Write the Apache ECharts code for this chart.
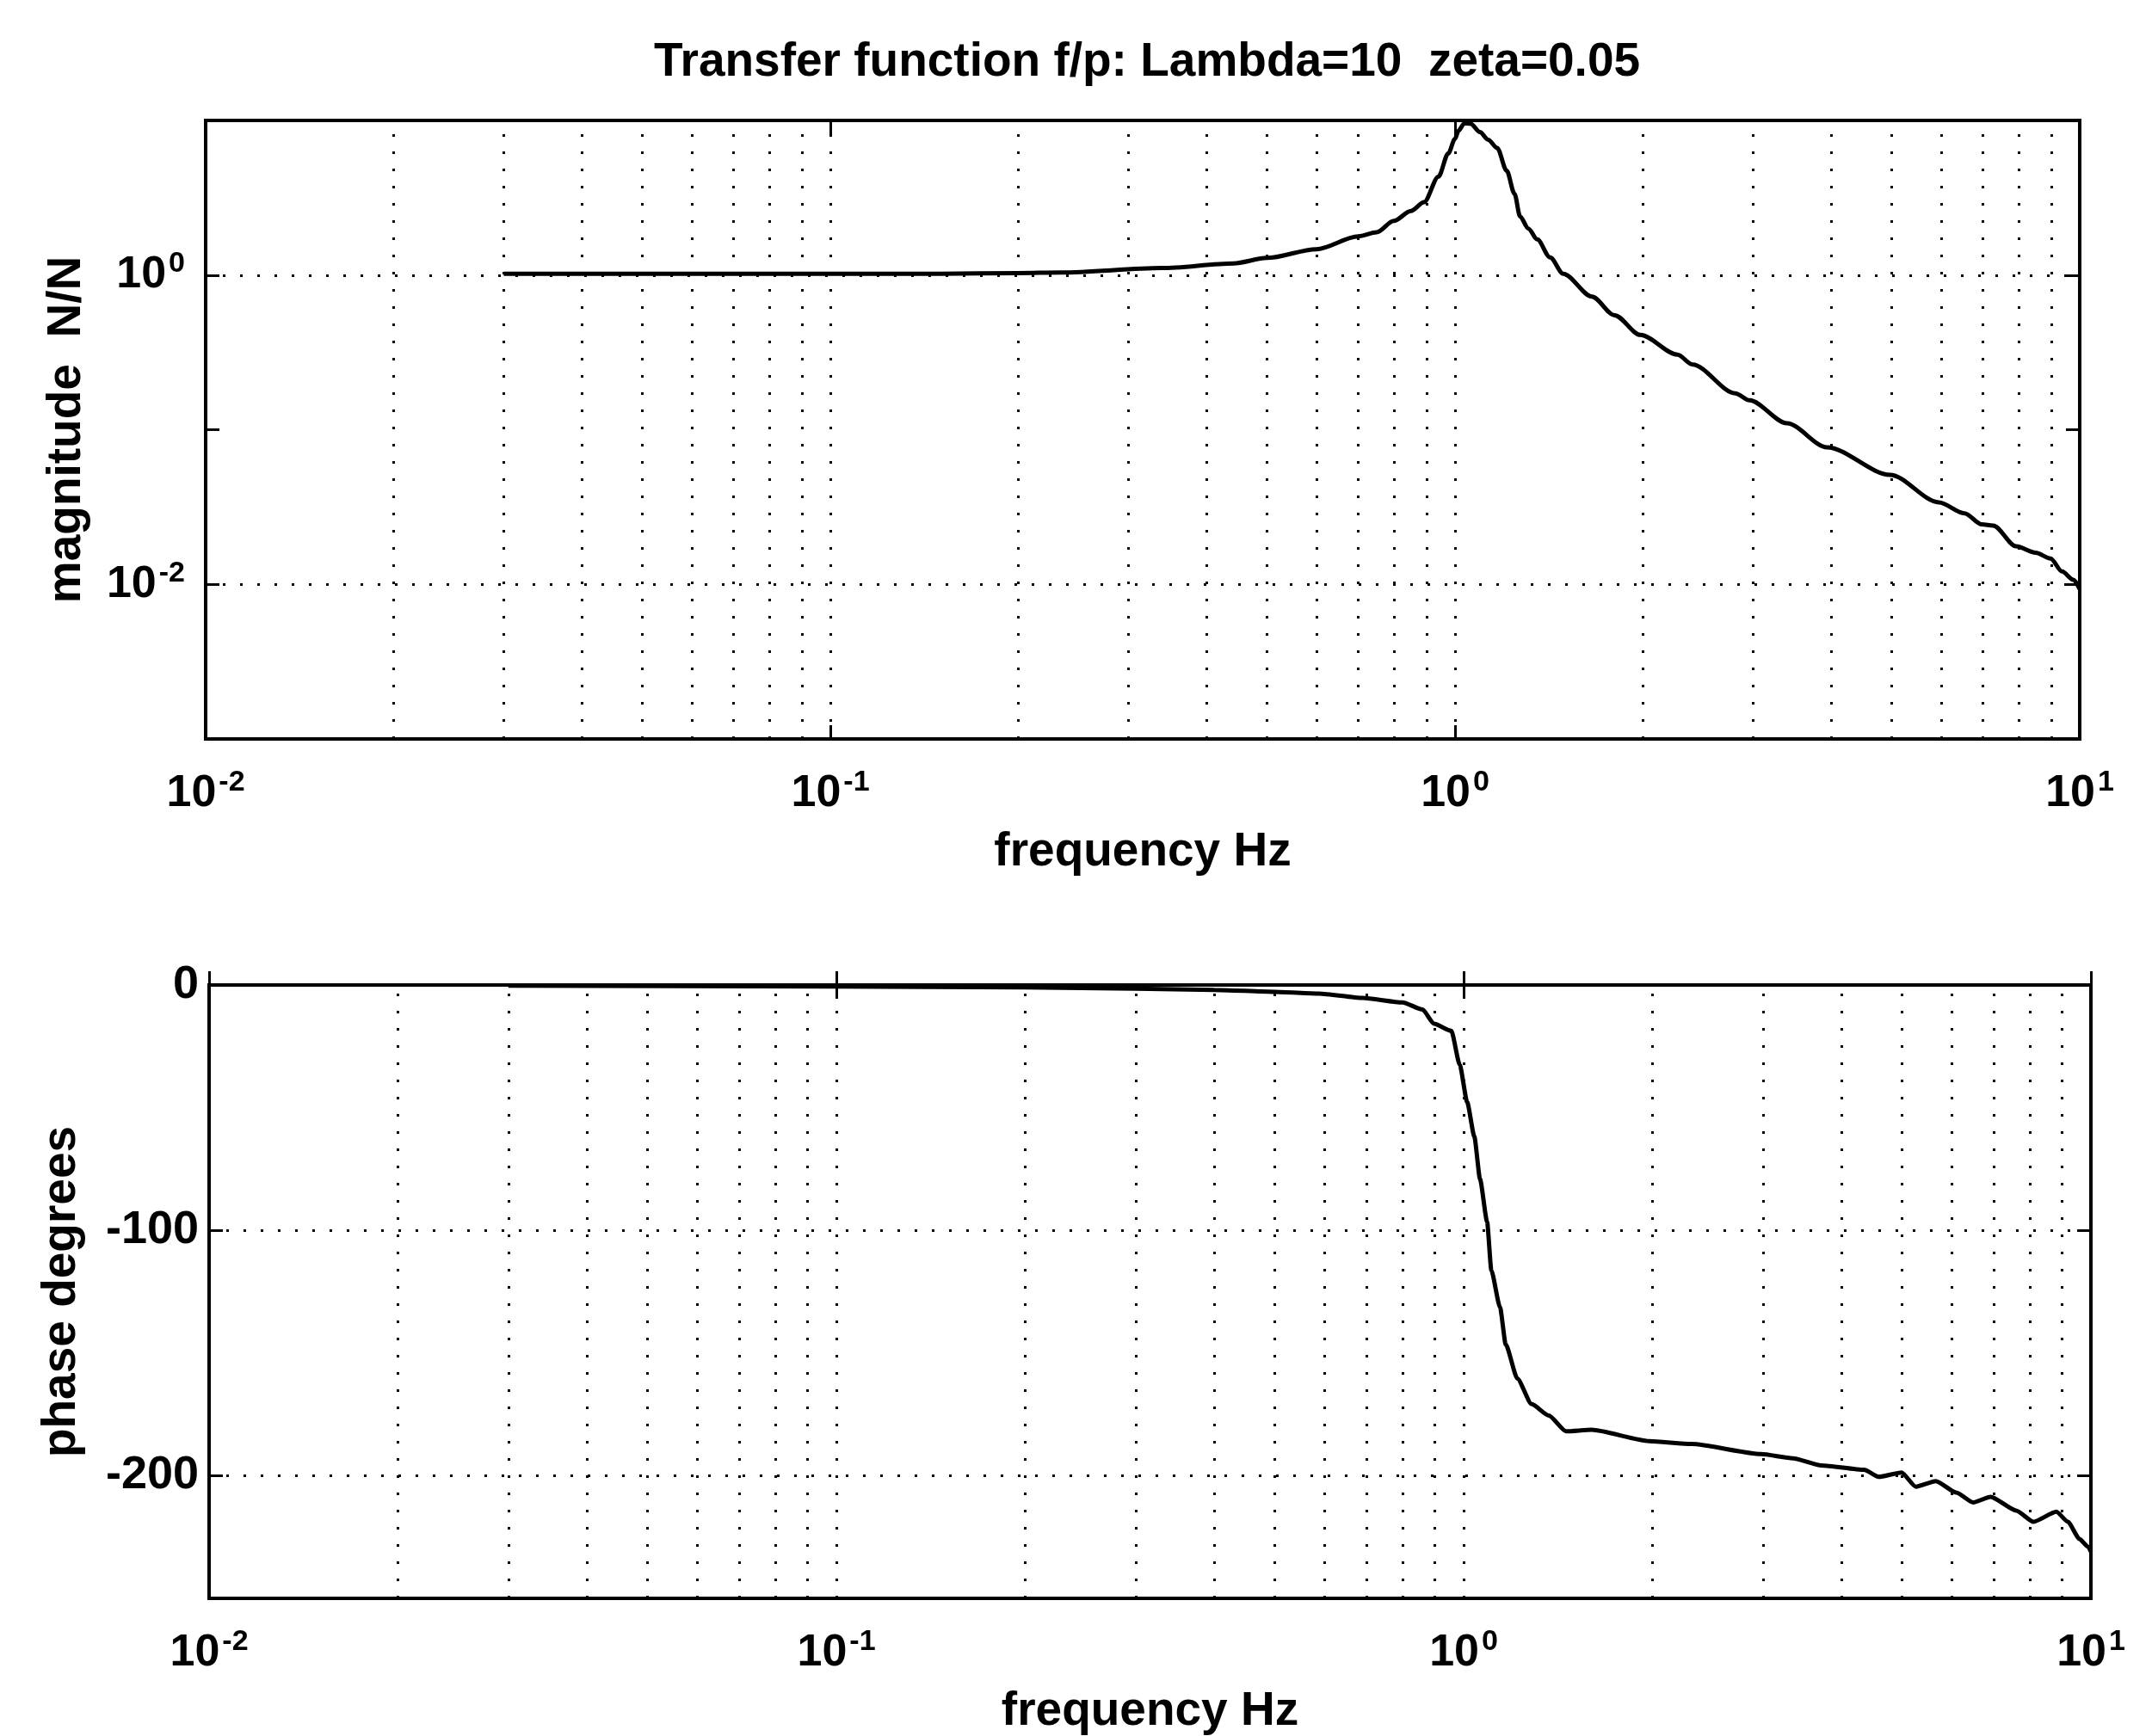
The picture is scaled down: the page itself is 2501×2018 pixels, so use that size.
<!DOCTYPE html>
<html><head><meta charset="utf-8">
<script src="https://cdn.jsdelivr.net/npm/echarts@6/dist/echarts.min.js"></script>
<style>html,body{margin:0;padding:0;background:#fff}#c{width:2501px;height:2018px}</style>
</head><body><div id="c"></div>
<script>
const titleText = 'Transfer function f/p: Lambda=10  zeta=0.05';
const magAxisName = 'magnitude  N/N';
const phaseAxisName = 'phase degrees';
const freqAxisName = 'frequency Hz';

const magFreq = [0.03, 0.05, 0.1, 0.15, 0.2, 0.234, 0.339, 0.442, 0.5, 0.6, 0.7, 0.749, 0.798, 0.85, 0.892, 0.941, 0.975, 1.0, 1.013, 1.035, 1.06, 1.096, 1.13, 1.168, 1.21, 1.245, 1.271, 1.31, 1.354, 1.42, 1.49, 1.656, 1.8, 1.98, 2.27, 2.4, 2.81, 2.96, 3.4, 3.94, 4.97, 5.95, 6.54, 6.97, 7.27, 7.91, 8.5, 8.98, 9.37, 9.77, 10];
const magVal = [1.02, 1.02, 1.02, 1.02, 1.03, 1.04, 1.11, 1.19, 1.29, 1.47, 1.78, 1.89, 2.24, 2.6, 2.96, 4.34, 6.1, 7.6, 8.6, 9.6, 9.5, 8.4, 7.5, 6.64, 4.72, 3.36, 2.39, 2.0, 1.70, 1.3, 1.02, 0.727, 0.55, 0.41, 0.306, 0.264, 0.172, 0.155, 0.11, 0.0769, 0.0511, 0.0339, 0.0288, 0.0244, 0.024, 0.0176, 0.016, 0.0147, 0.0121, 0.0107, 0.0093];

const phaseFreq = [0.03, 0.1, 0.2, 0.3, 0.4, 0.5, 0.588, 0.69, 0.799, 0.86, 0.897, 0.956, 0.986, 1.013, 1.04, 1.062, 1.09, 1.107, 1.143, 1.167, 1.218, 1.283, 1.367, 1.456, 1.6, 1.976, 2.31, 2.98, 3.35, 3.72, 4.35, 4.59, 4.99, 5.26, 5.66, 6.1, 6.49, 6.92, 7.6, 8.1, 8.81, 9.19, 9.59, 9.9, 10];
const phaseVal = [-0.3, -0.6, -1.0, -1.5, -2.0, -2.8, -3.5, -5.3, -7.1, -10, -15.8, -18.7, -32.6, -47.7, -61.7, -79.1, -96.5, -116.3, -131.4, -146.5, -160.4, -170.8, -175.5, -181.9, -181.3, -185.9, -187.1, -191.2, -192.9, -195.8, -197.6, -200.5, -198.7, -204.5, -202.2, -206.9, -210.9, -208.6, -214.2, -218.8, -214.7, -218.8, -225.8, -229, -231];

const gridFreqs = [0.02, 0.03, 0.04, 0.05, 0.06, 0.07, 0.08, 0.09, 0.1, 0.2, 0.3, 0.4, 0.5, 0.6, 0.7, 0.8, 0.9, 1, 2, 3, 4, 5, 6, 7, 8, 9];
const magGridVals = [1, 0.01];
const magLabelExps = [0, -2];
const phaseGridVals = [-100, -200];
const phaseTickVals = [-200, -100, 0];

const FF = '"Liberation Sans", Arial, Helvetica, sans-serif';
const BLACK = '#000';

function pow10Label(v) {
  const e = Math.round(Math.log10(v));
  return '{b|10}{e|' + e + '}';
}
const powRich = {
  b: { fontSize: 52, fontWeight: 'bold', fontFamily: FF, color: BLACK, lineHeight: 60 },
  e: { fontSize: 34, fontWeight: 'bold', fontFamily: FF, color: BLACK, verticalAlign: 'top', lineHeight: 34, padding: [0, 0, 0, 3] }
};
const nameStyle = { fontSize: 55, fontWeight: 'bold', fontFamily: FF, color: BLACK };
const axisLineStyle = { show: true, lineStyle: { color: BLACK, width: 4 } };
const tickStyle = { show: true, inside: true, length: 16, lineStyle: { color: BLACK, width: 3 } };
const gridLineStyle = { color: BLACK, width: 3, type: [3, 17] };

function gridMarks(yVals) {
  return {
    silent: true, symbol: ['none', 'none'], animation: false,
    label: { show: false }, emphasis: { disabled: true },
    lineStyle: gridLineStyle,
    data: gridFreqs.map(f => ({ xAxis: f })).concat(yVals.map(v => ({ yAxis: v })))
  };
}

const chart = echarts.init(document.getElementById('c'), null, { renderer: 'canvas' });
chart.setOption({
  animation: false,
  backgroundColor: '#fff',
  title: {
    text: titleText, left: 1328, top: 40, textAlign: 'center',
    textStyle: { fontSize: 55, fontWeight: 'bold', fontFamily: FF, color: BLACK }
  },
  grid: [
    { left: 239, right: 84, top: 140, height: 719, show: true, borderColor: BLACK, borderWidth: 4, backgroundColor: 'transparent' },
    { left: 243, right: 71, top: 1145, height: 715, show: true, borderColor: BLACK, borderWidth: 4, backgroundColor: 'transparent' }
  ],
  xAxis: [
    { gridIndex: 0, type: 'log', logBase: 10, min: 0.01, max: 10, position: 'bottom',
      name: freqAxisName, nameLocation: 'middle', nameGap: 104, nameTextStyle: nameStyle,
      axisLine: axisLineStyle, axisTick: tickStyle, splitLine: { show: false },
      axisLabel: { margin: 34, formatter: pow10Label, rich: powRich } },
    { gridIndex: 1, type: 'log', logBase: 10, min: 0.01, max: 10, position: 'bottom',
      name: freqAxisName, nameLocation: 'middle', nameGap: 104, nameTextStyle: nameStyle,
      axisLine: axisLineStyle, axisTick: tickStyle, splitLine: { show: false },
      axisLabel: { margin: 34, formatter: pow10Label, rich: powRich } },
    { gridIndex: 0, type: 'log', logBase: 10, min: 0.01, max: 10, position: 'top',
      axisLine: axisLineStyle, axisTick: tickStyle, axisLabel: { show: false }, splitLine: { show: false } },
    { gridIndex: 1, type: 'log', logBase: 10, min: 0.01, max: 10, position: 'top',
      axisLine: axisLineStyle, axisTick: tickStyle, axisLabel: { show: false }, splitLine: { show: false } }
  ],
  yAxis: [
    { gridIndex: 0, type: 'log', logBase: 10, min: 0.001, max: 10, position: 'left',
      name: magAxisName, nameLocation: 'middle', nameGap: 134, nameRotate: 90, nameTextStyle: nameStyle,
      axisLine: axisLineStyle, axisTick: tickStyle, splitLine: { show: false },
      axisLabel: { margin: 24,
        formatter: v => magLabelExps.indexOf(Math.round(Math.log10(v))) >= 0 ? pow10Label(v) : '',
        rich: powRich } },
    { gridIndex: 1, type: 'value', min: -250, max: 0, interval: 50, position: 'left',
      name: phaseAxisName, nameLocation: 'middle', nameGap: 144, nameRotate: 90, nameTextStyle: nameStyle,
      axisLine: axisLineStyle, splitLine: { show: false },
      axisTick: Object.assign({}, tickStyle, { customValues: phaseTickVals }),
      axisLabel: { margin: 12, customValues: phaseTickVals, fontSize: 54, fontWeight: 'bold', fontFamily: FF, color: BLACK } },
    { gridIndex: 0, type: 'log', logBase: 10, min: 0.001, max: 10, position: 'right',
      axisLine: axisLineStyle, axisTick: tickStyle, axisLabel: { show: false }, splitLine: { show: false } },
    { gridIndex: 1, type: 'value', min: -250, max: 0, interval: 50, position: 'right',
      axisLine: axisLineStyle, axisTick: Object.assign({}, tickStyle, { customValues: phaseTickVals }),
      axisLabel: { show: false }, splitLine: { show: false } }
  ],
  series: [
    { type: 'line', xAxisIndex: 0, yAxisIndex: 0, showSymbol: false, symbol: 'none',
      smooth: 0.3, smoothMonotone: 'x',
      lineStyle: { color: BLACK, width: 5 },
      data: magFreq.map((f, i) => [f, magVal[i]]),
      markLine: gridMarks(magGridVals) },
    { type: 'line', xAxisIndex: 1, yAxisIndex: 1, showSymbol: false, symbol: 'none',
      smooth: 0.2, smoothMonotone: 'x',
      lineStyle: { color: BLACK, width: 5 },
      data: phaseFreq.map((f, i) => [f, phaseVal[i]]),
      markLine: gridMarks(phaseGridVals) }
  ]
});
</script></body></html>
